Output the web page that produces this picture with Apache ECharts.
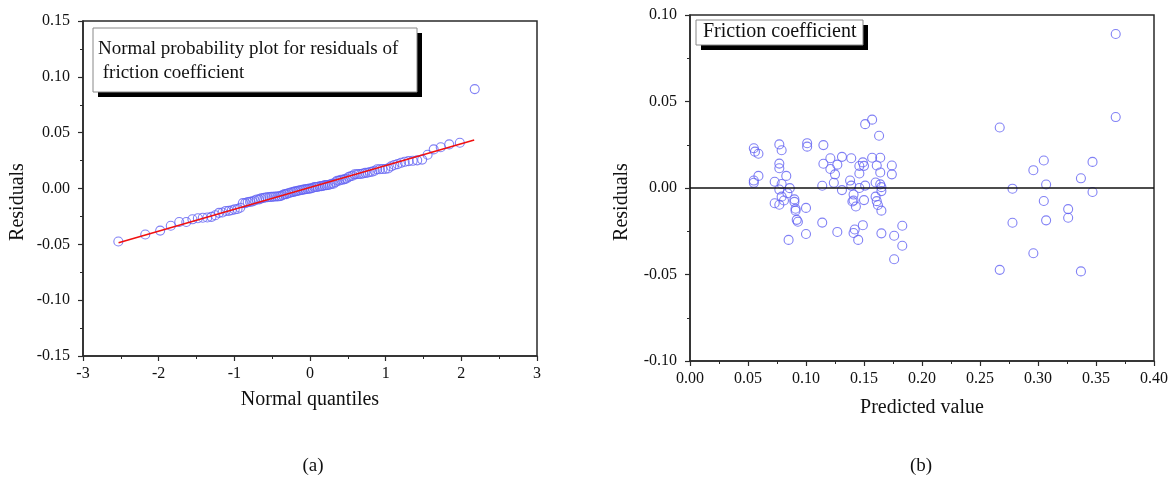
<!DOCTYPE html>
<html><head><meta charset="utf-8">
<script src="https://cdn.jsdelivr.net/npm/echarts@6/dist/echarts.min.js"></script>
<style>html,body{margin:0;padding:0;background:#fff}#c{width:1174px;height:481px}</style>
</head><body><div id="c"></div>
<script>
// ---- Panel (a): normal probability plot ----
const normalQuantiles = [
-2.533,-2.177,-1.980,-1.840,-1.728,-1.635,-1.554,-1.482,-1.417,-1.357,
-1.302,-1.251,-1.203,-1.157,-1.114,-1.073,-1.033,-0.995,-0.958,-0.923,
-0.888,-0.855,-0.823,-0.792,-0.761,-0.731,-0.702,-0.673,-0.645,-0.617,
-0.589,-0.563,-0.536,-0.510,-0.484,-0.459,-0.434,-0.409,-0.384,-0.360,
-0.336,-0.312,-0.288,-0.265,-0.241,-0.218,-0.195,-0.172,-0.149,-0.126,
-0.102,-0.080,-0.057,-0.034,-0.011,
0.011,0.034,0.057,0.080,0.102,0.126,0.149,0.172,0.195,0.218,
0.241,0.265,0.288,0.312,0.336,0.360,0.384,0.409,0.434,0.459,
0.484,0.510,0.536,0.563,0.589,0.617,0.645,0.673,0.702,0.731,
0.761,0.792,0.823,0.855,0.888,0.923,0.958,0.995,1.033,1.073,
1.114,1.157,1.203,1.251,1.302,1.357,1.417,1.482,1.554,1.635,
1.728,1.840,1.980,2.177];
const sortedResiduals = [
-0.0475,-0.0412,-0.0377,-0.0334,-0.0300,-0.0300,-0.0276,-0.0266,-0.0262,-0.0260,
-0.0254,-0.0240,-0.0218,-0.0215,-0.0201,-0.0200,-0.0195,-0.0187,-0.0184,-0.0172,
-0.0131,-0.0131,-0.0122,-0.0120,-0.0115,-0.0107,-0.0098,-0.0097,-0.0088,-0.0085,
-0.0080,-0.0078,-0.0076,-0.0075,-0.0074,-0.0072,-0.0072,-0.0070,-0.0066,-0.0058,
-0.0050,-0.0050,-0.0042,-0.0038,-0.0034,-0.0030,-0.0026,-0.0023,-0.0018,-0.0015,
-0.0012,-0.0009,-0.0006,-0.0004,-0.0001,
0.0000,0.0005,0.0013,0.0014,0.0014,0.0020,0.0021,0.0023,0.0030,0.0030,
0.0032,0.0036,0.0043,0.0043,0.0056,0.0070,0.0070,0.0079,0.0079,0.0084,
0.0090,0.0103,0.0110,0.0114,0.0127,0.0128,0.0130,0.0130,0.0135,0.0140,
0.0141,0.0148,0.0151,0.0159,0.0172,0.0172,0.0175,0.0175,0.0180,0.0198,
0.0210,0.0218,0.0230,0.0239,0.0245,0.0248,0.0252,0.0259,0.0302,0.0350,
0.0369,0.0395,0.0410,0.0890];
const fitLineX = [-2.53, 2.17];
const fitLineY = [-0.0485, 0.0434];

// ---- Panel (b): residuals vs predicted ----
const predictedValue = [
0.055,0.056,0.059,0.059,0.055,0.055,0.077,0.079,0.077,0.077,
0.083,0.073,0.079,0.077,0.086,0.084,0.079,0.073,0.077,0.081,
0.090,0.090,0.091,0.091,0.092,0.093,0.085,0.100,0.100,0.101,
0.101,0.115,0.115,0.114,0.114,0.121,0.121,0.127,0.125,0.124,
0.131,0.131,0.127,0.139,0.138,0.139,0.141,0.141,0.140,0.143,
0.142,0.141,0.145,0.146,0.146,0.146,0.149,0.150,0.150,0.149,
0.151,0.157,0.151,0.163,0.157,0.164,0.161,0.164,0.160,0.164,
0.165,0.165,0.160,0.161,0.162,0.165,0.165,0.174,0.174,0.176,
0.176,0.183,0.183,
0.267,0.267,0.278,0.278,0.296,0.296,0.305,0.305,0.307,0.307,
0.326,0.326,0.337,0.337,0.347,0.347,0.367,0.367];
const residualValue = [
0.0230,0.0210,0.0198,0.0070,0.0043,0.0030,0.0252,0.0218,0.0141,0.0114,
0.0070,0.0036,0.0023,-0.0009,-0.0001,-0.0030,-0.0050,-0.0088,-0.0097,-0.0072,
-0.0066,-0.0080,-0.0120,-0.0131,-0.0184,-0.0195,-0.0300,-0.0115,-0.0266,0.0259,
0.0239,0.0248,0.0140,0.0013,-0.0200,0.0172,0.0110,0.0135,0.0079,0.0030,
0.0180,-0.0012,-0.0254,0.0172,0.0043,0.0014,-0.0038,-0.0072,-0.0078,-0.0107,
-0.0240,-0.0260,-0.0300,0.0127,0.0084,0.0000,0.0148,0.0128,-0.0070,-0.0215,
0.0369,0.0395,0.0014,0.0302,0.0175,0.0175,0.0130,0.0090,0.0032,0.0021,
0.0005,-0.0018,-0.0050,-0.0076,-0.0098,-0.0131,-0.0262,0.0130,0.0079,-0.0276,
-0.0412,-0.0218,-0.0334,
0.0350,-0.0473,-0.0004,-0.0201,0.0103,-0.0377,0.0159,-0.0075,0.0020,-0.0187,
-0.0122,-0.0172,0.0056,-0.0482,0.0151,-0.0023,0.0890,0.0410];

const panelLabels = ['(a)', '(b)'];
const boxTextA = 'Normal probability plot for residuals of\n friction coefficient';
const boxTextB = 'Friction coefficient';
const yTitle = 'Residuals';

const FONT = '"Liberation Serif", "Times New Roman", serif';
const AX = '#2a2a2a';
const DOT = '#6262f2';

function pair(xs, ys) { return xs.map((x, i) => [x, ys[i]]); }

function axisBase(extra) {
  return Object.assign({
    type: 'value',
    axisLine: { show: true, onZero: false, lineStyle: { color: AX, width: 1.5 } },
    axisTick: { show: true, inside: false, length: 5, lineStyle: { color: AX, width: 1.2 } },
    minorTick: { show: true, splitNumber: 2, length: 3, lineStyle: { color: AX, width: 1 } },
    splitLine: { show: false },
    nameTextStyle: { color: '#111', fontFamily: FONT, fontSize: 20 },
    nameLocation: 'middle'
  }, extra);
}
function lbl(margin, fmt) {
  return { color: '#111', fontFamily: FONT, fontSize: 16, margin: margin, formatter: fmt };
}

const chart = echarts.init(document.getElementById('c'), null, { renderer: 'canvas' });
chart.setOption({
  backgroundColor: '#fff',
  animation: false,
  grid: [
    { left: 83, top: 21, width: 454, height: 335, show: true, borderColor: AX, borderWidth: 1.5, backgroundColor: 'transparent' },
    { left: 690, top: 15, width: 464, height: 346, show: true, borderColor: AX, borderWidth: 1.5, backgroundColor: 'transparent' }
  ],
  xAxis: [
    axisBase({ gridIndex: 0, min: -3, max: 3, interval: 1, name: 'Normal quantiles', nameGap: 34,
      axisLabel: lbl(10, v => String(v)) }),
    axisBase({ gridIndex: 1, min: 0, max: 0.4, interval: 0.05, name: 'Predicted value', nameGap: 37,
      axisLabel: lbl(10, v => v.toFixed(2)) })
  ],
  yAxis: [
    axisBase({ gridIndex: 0, min: -0.15, max: 0.15, interval: 0.05,
      axisLabel: lbl(13, v => v.toFixed(2)) }),
    axisBase({ gridIndex: 1, min: -0.1, max: 0.1, interval: 0.05,
      axisLabel: lbl(13, v => v.toFixed(2)) })
  ],
  series: [
    { type: 'scatter', xAxisIndex: 0, yAxisIndex: 0, data: pair(normalQuantiles, sortedResiduals),
      symbol: 'circle', symbolSize: 9, itemStyle: { color: 'transparent', borderColor: DOT, borderWidth: 1.1 }, z: 3 },
    { type: 'line', xAxisIndex: 0, yAxisIndex: 0, data: pair(fitLineX, fitLineY), showSymbol: false,
      lineStyle: { color: '#f01010', width: 1.5 }, z: 4 },
    { type: 'scatter', xAxisIndex: 1, yAxisIndex: 1, data: pair(predictedValue, residualValue),
      symbol: 'circle', symbolSize: 9, itemStyle: { color: 'transparent', borderColor: DOT, borderWidth: 1.1 }, z: 3,
      markLine: { silent: true, symbol: 'none', label: { show: false },
        lineStyle: { color: '#111', width: 1.5, type: 'solid' }, data: [{ yAxis: 0 }] } }
  ],
  graphic: [
    // y-axis titles
    { type: 'text', x: 18, y: 202, rotation: Math.PI / 2,
      style: { text: yTitle, font: '20px ' + FONT, fill: '#111', align: 'center', verticalAlign: 'middle' } },
    { type: 'text', x: 622, y: 202, rotation: Math.PI / 2,
      style: { text: yTitle, font: '20px ' + FONT, fill: '#111', align: 'center', verticalAlign: 'middle' } },
    // legend box (a)
    { type: 'rect', shape: { x: 98, y: 33, width: 324, height: 64 }, style: { fill: '#000' }, z: 10 },
    { type: 'rect', shape: { x: 93, y: 28, width: 324, height: 64 }, style: { fill: '#fff', stroke: '#888', lineWidth: 1 }, z: 11 },
    { type: 'text', left: 98, top: 37, z: 12,
      style: { text: boxTextA, font: '19px ' + FONT, fill: '#111', lineHeight: 24 } },
    // legend box (b)
    { type: 'rect', shape: { x: 701, y: 25, width: 167, height: 25 }, style: { fill: '#000' }, z: 10 },
    { type: 'rect', shape: { x: 696, y: 20, width: 167, height: 25 }, style: { fill: '#fff', stroke: '#888', lineWidth: 1 }, z: 11 },
    { type: 'text', left: 703, top: 22, z: 12,
      style: { text: boxTextB, font: '20px ' + FONT, fill: '#111' } },
    // panel captions
    { type: 'text', x: 313, y: 466, style: { text: panelLabels[0], font: '19px ' + FONT, fill: '#111', align: 'center', verticalAlign: 'middle' } },
    { type: 'text', x: 921, y: 466, style: { text: panelLabels[1], font: '19px ' + FONT, fill: '#111', align: 'center', verticalAlign: 'middle' } }
  ]
});
</script>
</body></html>
